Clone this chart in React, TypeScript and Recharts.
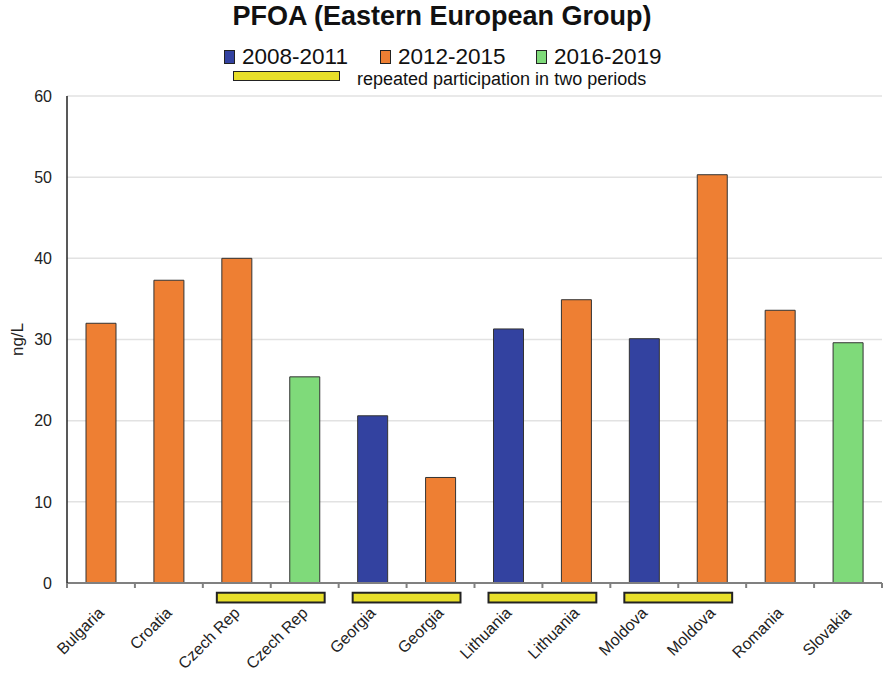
import { BarChart, Bar, XAxis, YAxis, CartesianGrid, Cell, ReferenceArea } from 'recharts';

const countries = ['Bulgaria', 'Croatia', 'Czech Rep', 'Czech Rep', 'Georgia', 'Georgia', 'Lithuania', 'Lithuania', 'Moldova', 'Moldova', 'Romania', 'Slovakia'];
const periods = ['2012-2015', '2012-2015', '2012-2015', '2016-2019', '2008-2011', '2012-2015', '2008-2011', '2012-2015', '2008-2011', '2012-2015', '2012-2015', '2016-2019'];
const values = [32.0, 37.3, 40.0, 25.4, 20.6, 13.0, 31.3, 34.9, 30.1, 50.3, 33.6, 29.6];

const periodNames = ['2008-2011', '2012-2015', '2016-2019'];
const periodColors = ['#3342A0', '#EE7F33', '#7FDA7A'];

// index pairs of the same country taking part in two periods
const repeatedPairs = [[2, 3], [4, 5], [6, 7], [8, 9]];

const yTicks = [0, 10, 20, 30, 40, 50, 60];

const data = countries.map((c, i) => ({
  id: `${c}-${i}`,
  country: c,
  period: periods[i],
  value: values[i],
}));

const FONT = '"Liberation Sans", Arial, Helvetica, sans-serif';

const CountryTick = (props: any) => {
  const { x, y, payload } = props;
  const half = payload.offset ?? 0;
  const isLast = payload.index === countries.length - 1;
  const tx = x + 4;
  const ty = y + 31;
  return (
    <g>
      <line x1={x - half} x2={x - half} y1={y} y2={y + 5} stroke="#808080" strokeWidth={2} />
      {isLast && <line x1={x + half} x2={x + half} y1={y} y2={y + 5} stroke="#808080" strokeWidth={2} />}
      <text
        x={tx}
        y={ty}
        textAnchor="end"
        transform={`rotate(-45, ${tx}, ${ty})`}
        fontSize={16}
        fontFamily={FONT}
        fill="#222"
      >
        {countries[payload.index]}
      </text>
    </g>
  );
};

const PairShape = (props: any) => {
  const { x, y, width, height } = props;
  const inset = 14;
  return (
    <rect
      x={x + inset}
      y={y}
      width={width - inset * 2}
      height={height}
      fill="#E8DF2A"
      stroke="#222"
      strokeWidth={2}
    />
  );
};

const YLabel = (props: any) => {
  const { viewBox } = props;
  const cx = viewBox.x + 17;
  const cy = viewBox.y + viewBox.height / 2;
  return (
    <text
      x={cx}
      y={cy}
      textAnchor="middle"
      dominantBaseline="central"
      transform={`rotate(-90, ${cx}, ${cy})`}
      fontSize={17}
      fontFamily={FONT}
      fill="#222"
    >
      ng/L
    </text>
  );
};

export default function App() {
  return (
    <div style={{ position: 'absolute', left: 0, top: 0, width: 884, height: 673, background: '#fff', fontFamily: FONT }}>
      <div style={{ position: 'absolute', left: 0, top: 1, width: 884, textAlign: 'center', fontSize: 27, fontWeight: 'bold', color: '#111' }}>
        PFOA (Eastern European Group)
      </div>
      {periodNames.map((p, i) => (
        <div key={p} style={{ position: 'absolute', left: 224 + i * 156, top: 46, height: 21, lineHeight: '21px', display: 'flex', alignItems: 'center', fontSize: 22.5, color: '#111' }}>
          <span style={{ display: 'inline-block', width: 9, height: 12, background: periodColors[i], border: '1px solid #222', marginRight: 7 }} />
          {p}
        </div>
      ))}
      <div style={{ position: 'absolute', left: 233, top: 71, width: 105, height: 8, background: '#E8DF2A', border: '1px solid #222' }} />
      <div style={{ position: 'absolute', left: 357, top: 71, height: 17, lineHeight: '17px', fontSize: 18, color: '#111' }}>
        repeated participation in two periods
      </div>

      <BarChart width={884} height={673} data={data} margin={{ top: 96, right: 2, left: 0, bottom: 0 }}>
        <CartesianGrid vertical={false} stroke="#E2E2E2" strokeWidth={1.5} />
        <XAxis
          dataKey="id"
          interval={0}
          height={90}
          tickSize={0}
          tickMargin={0}
          tickLine={false}
          axisLine={{ stroke: '#808080', strokeWidth: 2 }}
          tick={<CountryTick />}
        />
        <YAxis
          domain={[0, 60]}
          ticks={yTicks}
          width={67}
          tickLine={false}
          tickMargin={9}
          axisLine={{ stroke: '#222', strokeWidth: 1.5 }}
          tick={{ fontSize: 16, fill: '#222', fontFamily: FONT }}
          label={<YLabel />}
        />
        <Bar dataKey="value" barSize={30} stroke="#333" strokeWidth={1} isAnimationActive={false}>
          {data.map((d, i) => (
            <Cell key={`cell-${i}`} fill={periodColors[periodNames.indexOf(d.period)]} />
          ))}
        </Bar>
        {repeatedPairs.map(([a, b]) => (
          <ReferenceArea
            key={`pair-${a}`}
            x1={data[a].id}
            x2={data[b].id}
            y1={-1.2}
            y2={-2.4}
            ifOverflow="visible"
            shape={<PairShape />}
          />
        ))}
      </BarChart>
    </div>
  );
}
